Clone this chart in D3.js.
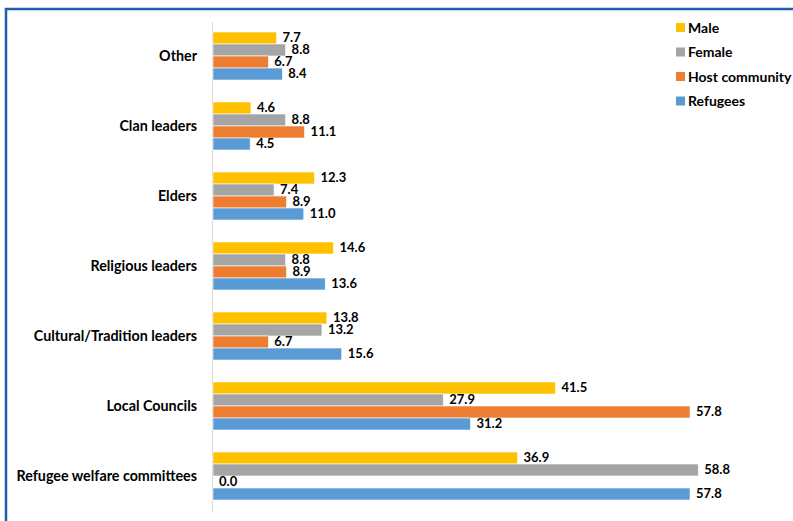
<!DOCTYPE html>
<html><head><meta charset="utf-8">
<script src="https://cdn.jsdelivr.net/npm/d3@7"></script>
<style>body{margin:0;background:#fff}svg{display:block}</style>
</head><body>
<svg id="c" width="793" height="521"></svg>
<script>
const categories = ["Other","Clan leaders","Elders","Religious leaders","Cultural/Tradition leaders","Local Councils","Refugee welfare committees"];
const seriesNames = ["Male","Female","Host community","Refugees"];
const male = [7.7,4.6,12.3,14.6,13.8,41.5,36.9];
const female = [8.8,8.8,7.4,8.8,13.2,27.9,58.8];
const host = [6.7,11.1,8.9,8.9,6.7,57.8,0.0];
const refugees = [8.4,4.5,11.0,13.6,15.6,31.2,57.8];
const colors = ["#FFC000","#A5A5A5","#ED7D31","#5B9BD5"];
const seriesValues = [male,female,host,refugees];

const svg = d3.select("#c");
const font = "Lato, 'Open Sans', sans-serif";

// border
svg.append("path").attr("d","M6,521 V9 H793").attr("fill","none").attr("stroke","#1F5FAE").attr("stroke-width",2.5);

const x = d3.scaleLinear().domain([0,57.8]).range([212,689]);
const y = d3.scaleBand().domain(categories).range([21,511]).paddingInner(0.314).paddingOuter(0.157);
const ys = d3.scaleBand().domain(seriesNames).range([0,y.bandwidth()]);

// axis line
svg.append("line").attr("x1",212.5).attr("x2",212.5).attr("y1",22).attr("y2",512).attr("stroke","#D9D9D9").attr("stroke-width",1);

const g = svg.append("g");
seriesNames.forEach((s,si)=>{
  categories.forEach((c,ci)=>{
    const v = seriesValues[si][ci];
    const yy = y(c)+ys(s);
    g.append("rect").attr("x",x(0)+1).attr("y",yy).attr("width",Math.max(0,x(v)-x(0)))
      .attr("height",ys.bandwidth()).attr("fill",colors[si]).attr("stroke","#fff").attr("stroke-width",0.6);
    g.append("text").attr("x",x(v)+7).attr("y",yy+ys.bandwidth()/2).attr("dy","0.33em")
      .attr("font-family",font).attr("font-weight","bold").attr("font-size",13).attr("fill","#000")
      .text(v.toFixed(1));
  });
});

// category labels
svg.append("g").selectAll("text").data(categories).join("text")
  .attr("x",197).attr("y",d=>y(d)+y.bandwidth()/2).attr("dy","0.35em")
  .attr("text-anchor","end").attr("font-family",font).attr("font-weight","bold").attr("font-size",14.3)
  .attr("fill","#000").text(d=>d);

// legend
const lg = svg.append("g");
seriesNames.forEach((s,i)=>{
  const ly = 28 + i*24.5;
  lg.append("rect").attr("x",676).attr("y",ly-5).attr("width",9).attr("height",9).attr("fill",colors[i]);
  lg.append("text").attr("x",688).attr("y",ly).attr("dy","0.35em").attr("font-family",font)
    .attr("font-weight","bold").attr("font-size",14).attr("fill","#000").text(s);
});
</script>
</body></html>
